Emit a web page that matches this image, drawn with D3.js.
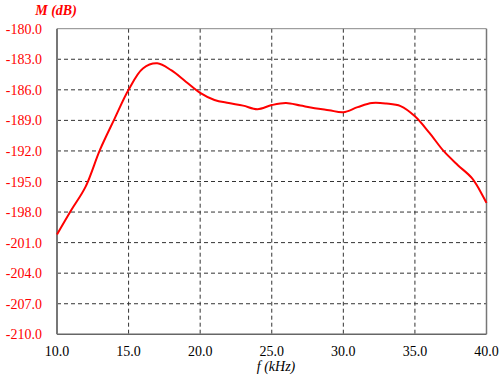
<!DOCTYPE html>
<html><head><meta charset="utf-8">
<script src="https://cdn.jsdelivr.net/npm/d3@7"></script>
<style>body{margin:0;background:#fff}svg{display:block}</style>
</head><body>
<script>
const freq = [10,11,12,13,14,15,16,17,18,19,20,21,22,23,24,25,26,27,28,29,30,31,32,33,34,35,36,37,38,39,40];
const mag  = [-200.2,-197.8,-195.5,-191.9,-188.9,-186.0,-183.9,-183.4,-184.1,-185.2,-186.3,-187.0,-187.3,-187.55,-187.9,-187.5,-187.3,-187.55,-187.8,-188.0,-188.2,-187.7,-187.3,-187.35,-187.6,-188.6,-190.2,-192.0,-193.4,-194.7,-197.1];
const xTicks = [10,15,20,25,30,35,40];
const yTicks = [-180,-183,-186,-189,-192,-195,-198,-201,-204,-207,-210];
const yTickLabels = ["-180.0","-183.0","-186.0","-189.0","-192.0","-195.0","-198.0","-201.0","-204.0","-207.0","-210.0"];
const xTickLabels = ["10.0","15.0","20.0","25.0","30.0","35.0","40.0"];
const xTitle = "f (kHz)";
const yTitle = "M (dB)";

const W = 500, H = 380;
const L = 57, R = 486.5, T = 28.7, B = 334.3;
const svg = d3.select("body").append("svg").attr("width", W).attr("height", H)
  .attr("font-family","Liberation Serif");
const x = d3.scaleLinear().domain([10,40]).range([L,R]);
const y = d3.scaleLinear().domain([-210,-180]).range([B,T]);

// tick labels (drawn first)
svg.selectAll("text.yl").data(yTicks).join("text").attr("class","yl")
  .attr("x",42).attr("y",d=>y(d)+5).attr("text-anchor","end")
  .attr("font-family","Liberation Serif").attr("font-size",14).attr("fill","#ff0000")
  .text((d,i)=>yTickLabels[i]);
svg.selectAll("text.xl").data(xTicks).join("text").attr("class","xl")
  .attr("x",d=>x(d)).attr("y",356).attr("text-anchor","middle")
  .attr("font-family","Liberation Serif").attr("font-size",14).attr("fill","#000000")
  .text((d,i)=>xTickLabels[i]);
svg.append("text").attr("x",56).attr("y",15).attr("text-anchor","middle")
  .attr("font-family","Liberation Serif").attr("font-size",14).attr("font-style","italic").attr("font-weight","bold")
  .attr("fill","#ff0000").text(yTitle);
svg.append("text").attr("x",276).attr("y",371).attr("text-anchor","middle")
  .attr("font-family","Liberation Serif").attr("font-size",14).attr("font-style","italic")
  .attr("fill","#000000").text(xTitle);

// grid
const grid = svg.append("g").attr("stroke","#333").attr("stroke-width",1).attr("stroke-dasharray","4,3");
grid.selectAll("line.v").data(xTicks.slice(1,-1)).join("line").attr("class","v")
  .attr("x1",d=>x(d)).attr("x2",d=>x(d)).attr("y1",T).attr("y2",B);
grid.selectAll("line.h").data(yTicks.slice(1,-1)).join("line").attr("class","h")
  .attr("x1",L).attr("x2",R).attr("y1",d=>y(d)).attr("y2",d=>y(d));

// frame
svg.append("line").attr("x1",L).attr("x2",R).attr("y1",T).attr("y2",T).attr("stroke","#888").attr("stroke-width",1);
svg.append("line").attr("x1",R).attr("x2",R).attr("y1",T).attr("y2",B).attr("stroke","#777").attr("stroke-width",1.5);
svg.append("line").attr("x1",L).attr("x2",R).attr("y1",B).attr("y2",B).attr("stroke","#666").attr("stroke-width",1.5);
svg.append("line").attr("x1",L).attr("x2",L).attr("y1",T).attr("y2",B).attr("stroke","#777").attr("stroke-width",2);

// curve
const line = d3.line().x((d,i)=>x(freq[i])).y(d=>y(d)).curve(d3.curveCatmullRom.alpha(0.5));
svg.append("path").datum(mag).attr("d",line).attr("fill","none")
  .attr("stroke","#ff0000").attr("stroke-width",2);
</script>
</body></html>
